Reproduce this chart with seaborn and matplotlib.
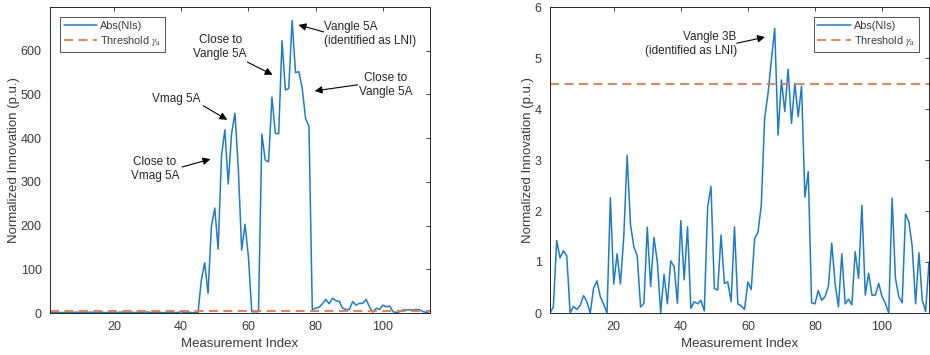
import numpy as np
import pandas as pd
import seaborn as sns
import matplotlib
matplotlib.use("Agg")
import matplotlib.pyplot as plt

# ---------------- data ----------------
left_values = [
    2, 1, 2, 1, 1, 2, 1, 1, 2, 1, 1, 1, 2, 1, 1, 2, 1, 1, 1, 2,
    1, 2, 1, 1, 2, 1, 1, 1, 2, 2, 1, 1, 2, 1, 1, 1, 2, 1, 1, 3,
    1, 2, 1, 1,
    0, 75, 115, 45, 198, 240, 146, 360, 419, 295,
    411, 457, 330, 144, 203, 129, 3, 3, 3, 409,
    350, 346, 494, 411, 410, 623, 510, 514, 669, 550,
    552, 514, 445, 427, 8, 11, 13, 21, 31, 21,
    34, 28, 27, 11, 8, 8, 26, 18, 22, 22,
    31, 14, 2, 11, 8, 18, 14, 16, 3, 1,
    3, 7, 7, 7, 7, 8, 7, 3, 1, 4,
]
right_values = [
    0.00, 0.12, 1.42, 1.08, 1.22, 1.12, 0.00, 0.13, 0.07, 0.15,
    0.34, 0.22, 0.00, 0.49, 0.63, 0.32, 0.17, 0.00, 2.26, 0.57,
    1.16, 0.57, 1.50, 3.09, 1.73, 1.30, 1.12, 0.12, 0.19, 1.68,
    0.52, 1.48, 1.00, 0.01, 0.76, 0.18, 1.02, 0.91, 0.19, 1.81,
    0.65, 1.69, 0.09, 0.22, 0.18, 0.25, 0.04, 2.08, 2.48, 0.48,
    0.45, 1.53, 0.58, 0.61, 0.22, 1.69, 0.18, 0.14, 0.07, 0.61,
    0.46, 1.46, 1.58, 2.12, 3.82, 4.30, 4.96, 5.58, 3.49, 4.57,
    3.95, 4.78, 3.72, 4.50, 3.85, 4.45, 2.27, 2.77, 0.20, 0.18,
    0.44, 0.25, 0.32, 0.52, 1.37, 0.58, 0.12, 1.16, 0.18, 0.27,
    0.16, 1.20, 0.68, 2.11, 0.35, 0.78, 0.35, 0.35, 0.58, 0.32,
    0.19, 0.00, 2.25, 0.68, 0.32, 0.20, 1.94, 1.79, 1.30, 0.18,
    1.18, 0.25, 0.03, 1.00,
]
threshold = 4.5
x_ticks = [20, 40, 60, 80, 100]
left_yticks = [0, 100, 200, 300, 400, 500, 600]
right_yticks = [0, 1, 2, 3, 4, 5, 6]
legend_labels = ["Abs(NIs)", r"Threshold $\gamma_{\rm a}$"]

# annotations: (text, text_xy, alignment, arrow_tail, arrow_head)
left_notes = [
    ("Vangle 5A\n(identified as LNI)", (82.4, 638), "left", (82.4, 643), (74.9, 659)),
    ("Close to\nVangle 5A", (51.6, 609), "center", (59.7, 574), (67.2, 545)),
    ("Close to\nVangle 5A", (100.9, 522), "center", (92.5, 522), (79.7, 508)),
    ("Vmag 5A", (38.5, 490), "center", (46.6, 474), (53.7, 442)),
    ("Close to\nVmag 5A", (32.2, 330), "center", (40.3, 334), (48.7, 352)),
]
right_notes = [
    ("Vangle 3B\n(identified as LNI)", (56.7, 5.27), "right", (56.7, 5.29), (65.1, 5.41)),
]

n = len(left_values)
df_left = pd.DataFrame({"idx": np.arange(1, n + 1), "val": left_values})
df_right = pd.DataFrame({"idx": np.arange(1, len(right_values) + 1), "val": right_values})

# ---------------- style ----------------
sns.set_style("white")
plt.rcParams["font.family"] = ["Liberation Sans", "DejaVu Sans"]
plt.rcParams["mathtext.fontset"] = "stix"

BLUE = "#1f7cc4"
ORANGE = "#e8784a"
AXC = "#262626"
TXC = "#3a3a3a"

fig = plt.figure(figsize=(9.3, 3.55), dpi=100)
ax1 = fig.add_axes([50 / 930, 42 / 355, 380 / 930, 306 / 355])
ax2 = fig.add_axes([550 / 930, 42 / 355, 379 / 930, 306 / 355])


def style_axes(ax, df, ylim, yticks, notes, legend_loc, ylabelpad):
    sns.lineplot(data=df, x="idx", y="val", ax=ax, color=BLUE, lw=1.1,
                 label=legend_labels[0])
    ax.axhline(threshold, color=ORANGE, lw=1.3, ls=(0, (5, 3)),
               label=legend_labels[1])
    ax.set_xlim(1, n)
    ax.set_ylim(*ylim)
    ax.set_xticks(x_ticks)
    ax.set_yticks(yticks)
    ax.set_xlabel("Measurement Index", fontsize=9.5, color=TXC, labelpad=3.5)
    ax.set_ylabel("Normalized Innovation (p.u.)", fontsize=9.5, color=TXC,
                  labelpad=ylabelpad)
    ax.tick_params(direction="in", length=3, width=0.6, colors=AXC,
                   labelcolor=TXC, labelsize=9, top=True, right=True, pad=6)
    for s in ax.spines.values():
        s.set_color(AXC)
        s.set_linewidth(0.7)
        s.set_visible(True)
    leg = ax.legend(loc=legend_loc, fontsize=7.8, frameon=True, fancybox=False,
                    handlelength=3.1, borderpad=0.35, labelspacing=0.3,
                    handletextpad=0.3, borderaxespad=0.9)
    leg.get_frame().set_edgecolor(AXC)
    leg.get_frame().set_linewidth(0.7)
    for txt in leg.get_texts():
        txt.set_color(TXC)
    for text, txy, ha, tail, head in notes:
        ax.text(txy[0], txy[1], text, ha=ha, va="center", fontsize=8.5,
                color=AXC, multialignment=ha, linespacing=1.25)
        ax.annotate("", xy=head, xytext=tail,
                    arrowprops=dict(arrowstyle="-|>", color="black", lw=0.8,
                                    mutation_scale=11, shrinkA=0, shrinkB=0))


style_axes(ax1, df_left, (0, 700), left_yticks, left_notes, "upper left", 0.5)
style_axes(ax2, df_right, (0, 6), right_yticks, right_notes, "upper right", 0.8)

fig.savefig("out.png", dpi=100)
